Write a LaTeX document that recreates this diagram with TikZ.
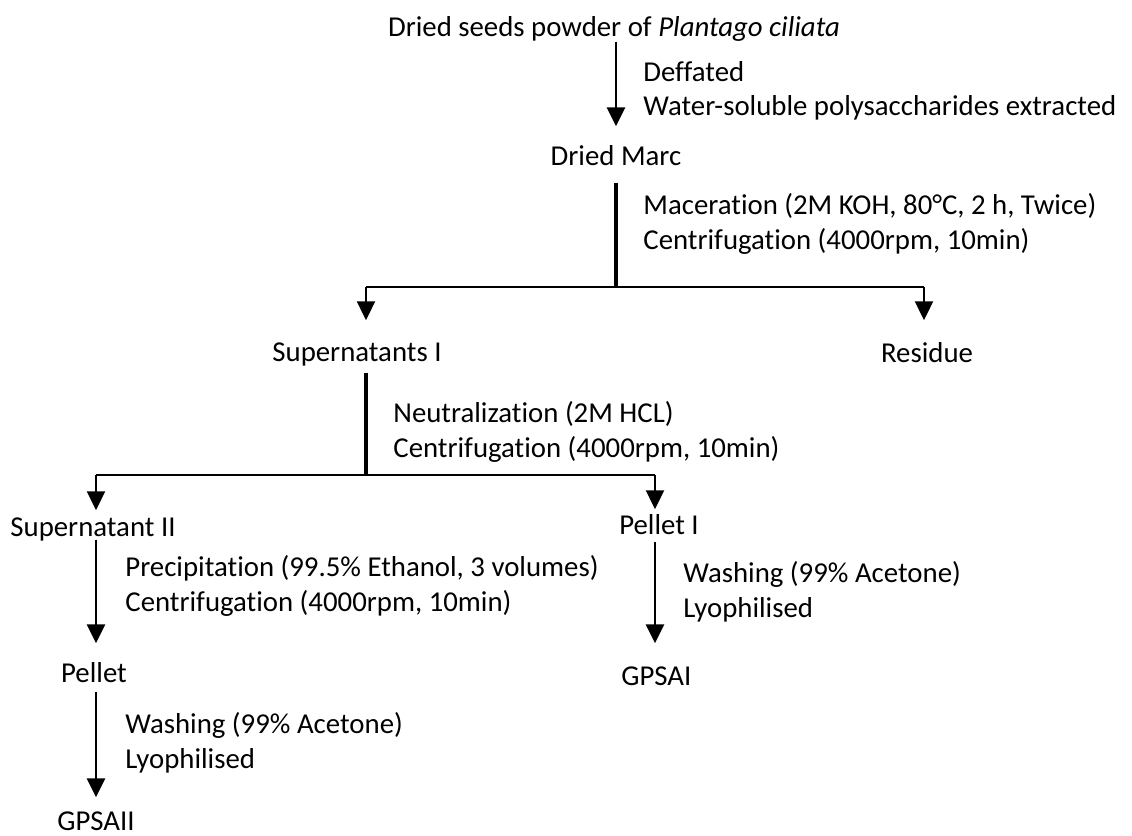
\documentclass[tikz,border=0pt]{standalone}
\usepackage{fontspec}
\setmainfont{Carlito}[Ligatures=NoCommon]
\usetikzlibrary{arrows.meta,calc}

\begin{document}
\begin{tikzpicture}[x=0.5pt,y=-0.5pt,
    font=\fontsize{14.4}{17.25}\selectfont,
    item/.style={inner sep=0pt,text height=9.3pt,text depth=0pt},
    note/.style={inner sep=0pt,anchor=west,align=left},
    flow/.style={line width=1.3pt,-{Triangle[length=9.5pt,width=9pt]}},
    branch/.style={flow,line width=1pt},
    stem/.style={line width=1.7pt},
    bar/.style={line width=1pt}]
  \useasboundingbox (0,0) rectangle (1132,836);
  % stages
  \node[item] (seeds) at (614,27) {Dried seeds powder of \textit{Plantago ciliata}};
  \node[item] (marc) at (616,156) {Dried Marc};
  \node[item] (supI) at (357,352) {Supernatants I};
  \node[item] (residue) at (927,353) {Residue};
  \node[item] (supII) at (93,527) {Supernatant II};
  \node[item] (pelletI) at (659,525) {Pellet I};
  \node[item] (pellet) at (94,673) {Pellet};
  \node[item,anchor=west] (gpsai) at (621,676) {GPSAI};
  \node[item] (gpsaii) at (96,821) {GPSAII};
  % treatments
  \node[note] (n1) at (643,91) {Deffated\\Water-soluble polysaccharides extracted};
  \node[note] (n2) at (643,224) {Maceration (2M KOH, 80°C, 2 h, Twice)\\Centrifugation (4000rpm, 10min)};
  \node[note] (n3) at (393,432) {Neutralization (2M HCL)\\Centrifugation (4000rpm, 10min)};
  \node[note] (n4) at (125,586) {Precipitation (99.5\% Ethanol, 3 volumes)\\Centrifugation (4000rpm, 10min)};
  \node[note] (n5) at (683,592) {Washing (99\% Acetone)\\Lyophilised};
  \node[note] (n6) at (125,743) {Washing (99\% Acetone)\\Lyophilised};
  % junctions
  \coordinate (j1) at (616,287);
  \coordinate (b1) at (366,287);
  \coordinate (b2) at (924,287);
  \coordinate (j2) at (366,475);
  \coordinate (b3) at (96,475);
  \coordinate (b4) at (655,475);
  % connectors
  \draw[flow] ($(seeds.south -| marc)+(0,5)$) -- ($(marc.north)+(0,-20)$);
  \draw[stem] ($(marc.south)+(0,17)$) -- (j1);
  \draw[bar] (b1) -- (b2);
  \draw[branch] (b1) -- ($(supI.north -| b1)+(0,-22)$);
  \draw[branch] (b2) -- ($(residue.north -| b2)+(0,-23)$);
  \draw[stem] ($(supI.south -| j2)+(0,11)$) -- (j2);
  \draw[bar] (b3) -- (b4);
  \draw[branch] (b3) -- ($(supII.north -| b3)+(0,-7)$);
  \draw[branch] (b4) -- ($(pelletI.north -| b4)+(0,-6)$);
  \draw[flow] ($(supII.south -| b3)+(0,3)$) -- ($(pellet.north -| b3)+(0,-20)$);
  \draw[flow] ($(pelletI.south -| b4)+(0,7)$) -- ($(gpsai.north -| b4)+(0,-23)$);
  \draw[flow] ($(pellet.south -| b3)+(0,9)$) -- ($(gpsaii.north -| b3)+(0,-14)$);
\end{tikzpicture}
\end{document}
